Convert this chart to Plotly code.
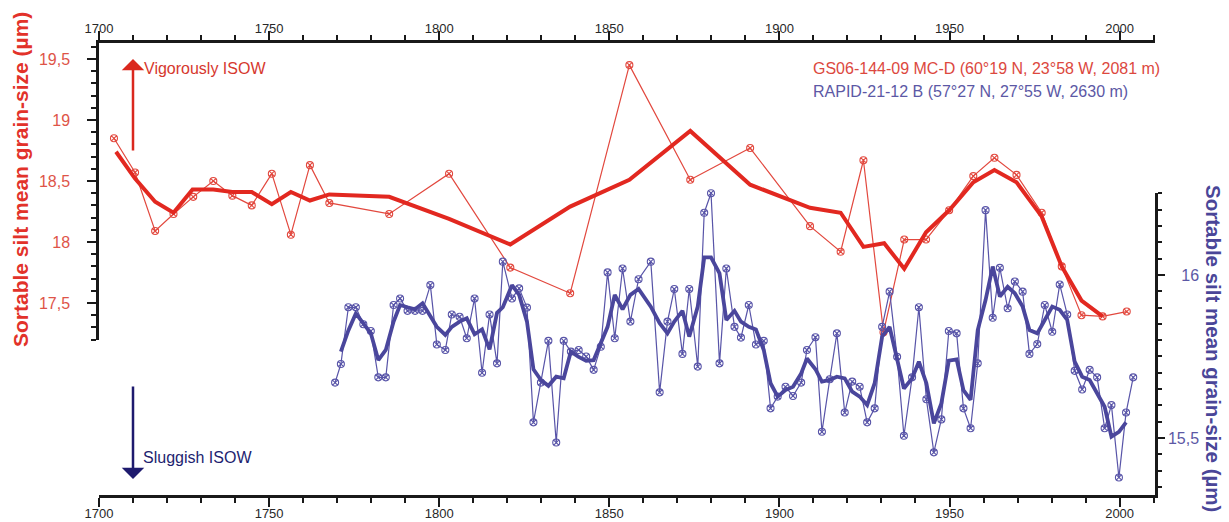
import plotly.graph_objects as go

# ---------------- data ----------------
red_years = [1704.4, 1710.6, 1716.5, 1721.9, 1727.7, 1733.6, 1739.2, 1744.9, 1750.8, 1756.4,
             1762.0, 1767.7, 1785.3, 1802.9, 1820.9, 1838.5, 1855.9, 1873.8, 1891.4, 1909.0,
             1918.0, 1924.7, 1930.6, 1936.7, 1943.1, 1949.9, 1957.0, 1963.2, 1969.7, 1977.1,
             1983.0, 1988.8, 1995.0, 2002.1]
red_values = [18.85, 18.57, 18.09, 18.23, 18.37, 18.50, 18.38, 18.30, 18.56, 18.06,
              18.63, 18.32, 18.23, 18.56, 17.79, 17.58, 19.45, 18.51, 18.77, 18.13,
              17.92, 18.67, 17.26, 18.02, 18.02, 18.26, 18.54, 18.69, 18.55, 18.24,
              17.80, 17.40, 17.39, 17.43]

red_smooth_years = [1705.0, 1710.6, 1716.5, 1721.9, 1727.5, 1733.6, 1739.2, 1744.9, 1750.8, 1756.4,
                    1762.0, 1767.7, 1785.3, 1802.9, 1820.9, 1838.5, 1855.9, 1873.8, 1891.4, 1909.0,
                    1918.0, 1924.7, 1930.8, 1936.7, 1943.1, 1949.9, 1957.0, 1963.2, 1969.7, 1977.1,
                    1983.0, 1988.8, 1995.0]
red_smooth_values = [18.74, 18.52, 18.33, 18.24, 18.43, 18.43, 18.41, 18.41, 18.31, 18.41,
                     18.34, 18.39, 18.37, 18.19, 17.98, 18.29, 18.51, 18.91, 18.47, 18.28,
                     18.24, 17.96, 17.99, 17.78, 18.08, 18.26, 18.49, 18.59, 18.49, 18.21,
                     17.80, 17.52, 17.39]

blue_years = [1769.4, 1771.1, 1773.3, 1775.5, 1777.7, 1779.9, 1782.1, 1784.3, 1786.6, 1788.5,
              1790.7, 1792.9, 1795.1, 1797.4, 1799.3, 1801.8, 1803.7, 1806.0, 1808.1, 1810.4,
              1812.6, 1814.8, 1817.0, 1818.7, 1821.4, 1823.5, 1825.8, 1827.7, 1829.9, 1832.1,
              1834.4, 1836.6, 1838.7, 1841.0, 1843.2, 1845.4, 1847.5, 1849.5, 1851.6, 1853.9,
              1856.2, 1858.6, 1862.2, 1864.8, 1867.1, 1869.1, 1871.5, 1873.5, 1876.0, 1877.9,
              1879.9, 1882.4, 1884.4, 1886.8, 1888.7, 1891.0, 1893.1, 1895.4, 1897.4, 1899.5,
              1901.8, 1904.0, 1906.4, 1908.1, 1910.6, 1912.5, 1914.8, 1916.9, 1919.2, 1921.4,
              1923.6, 1925.8, 1928.0, 1930.2, 1932.4, 1934.6, 1936.6, 1939.0, 1941.0, 1943.2,
              1945.4, 1947.6, 1949.8, 1952.1, 1954.1, 1956.2, 1958.3, 1960.6, 1962.7, 1964.8,
              1967.1, 1969.2, 1971.5, 1973.5, 1975.8, 1978.0, 1980.2, 1982.4, 1984.6, 1986.8,
              1989.0, 1991.2, 1993.4, 1995.6, 1997.6, 1999.8, 2001.9, 2004.0]
blue_values = [15.670, 15.727, 15.901, 15.901, 15.849, 15.828, 15.686, 15.686, 15.908, 15.928,
               15.890, 15.890, 15.890, 15.969, 15.787, 15.770, 15.879, 15.872, 15.806, 15.928,
               15.700, 15.879, 15.729, 16.041, 15.928, 15.959, 15.900, 15.548, 15.670, 15.798,
               15.486, 15.798, 15.765, 15.770, 15.750, 15.709, 15.780, 16.008, 15.806, 16.020,
               15.857, 15.987, 16.041, 15.640, 15.857, 15.957, 15.758, 15.957, 15.719, 16.191,
               16.251, 15.729, 16.020, 15.841, 15.808, 15.908, 15.787, 15.798, 15.591, 15.627,
               15.657, 15.629, 15.670, 15.770, 15.809, 15.519, 15.680, 15.821, 15.578, 15.673,
               15.657, 15.548, 15.591, 15.841, 15.949, 15.749, 15.507, 15.686, 15.901, 15.619,
               15.456, 15.557, 15.828, 15.821, 15.591, 15.530, 15.729, 16.199, 15.869, 16.022,
               15.898, 15.980, 15.949, 15.758, 15.788, 15.908, 15.826, 15.971, 15.879, 15.706,
               15.649, 15.709, 15.686, 15.530, 15.601, 15.379, 15.578, 15.686]

blue_smooth_years = blue_years[1:-1]
blue_smooth_values = [15.765, 15.830, 15.882, 15.850, 15.821, 15.739, 15.770, 15.857, 15.908,
                      15.901, 15.895, 15.913, 15.872, 15.841, 15.816, 15.841, 15.857, 15.867, 15.818,
                      15.833, 15.772, 15.884, 15.901, 15.969, 15.939, 15.857, 15.711, 15.678, 15.660,
                      15.688, 15.683, 15.765, 15.749, 15.737, 15.739, 15.790, 15.841, 15.939, 15.895,
                      15.939, 15.957, 15.903, 15.852, 15.821, 15.857, 15.890, 15.811, 15.903, 16.054,
                      16.054, 16.005, 15.862, 15.890, 15.857, 15.841, 15.833, 15.770, 15.668, 15.627,
                      15.647, 15.657, 15.698, 15.744, 15.711, 15.673, 15.678, 15.688, 15.683, 15.642,
                      15.627, 15.601, 15.668, 15.811, 15.841, 15.739, 15.652, 15.683, 15.734, 15.668,
                      15.545, 15.606, 15.737, 15.741, 15.647, 15.617, 15.831, 15.923, 16.026, 15.934,
                      15.964, 15.944, 15.903, 15.831, 15.821, 15.862, 15.903, 15.893, 15.862, 15.734,
                      15.688, 15.678, 15.637, 15.596, 15.504, 15.519, 15.548]

x_tick_vals = [1700, 1750, 1800, 1850, 1900, 1950, 2000]
x_tick_text = ["1700", "1750", "1800", "1850", "1900", "1950", "2000"]
left_tick_vals = [17.5, 18.0, 18.5, 19.0, 19.5]
left_tick_text = ["17,5", "18", "18,5", "19", "19,5"]
right_tick_vals = [15.5, 16.0]
right_tick_text = ["15,5", "\u2007\u00a016"]

title_text = "Sortable silt mean grain-size (µm)"
red_label = "GS06-144-09 MC-D (60°19 N, 23°58 W, 2081 m)"
blue_label = "RAPID-21-12 B (57°27 N, 27°55 W, 2630 m)"

# ---------------- styles ----------------
FONT = "Liberation Sans, Arial, Helvetica, sans-serif"
RED_THIN = "rgb(226,72,62)"
RED_THICK = "rgb(226,40,32)"
BLUE_THIN = "rgb(88,84,168)"
BLUE_THICK = "rgb(74,70,156)"
NAVY = "rgb(34,30,112)"
AX = "rgb(25,25,25)"

W, H = 1229, 522
ML, MR, MT, MB = 99, 74, 43, 27
PW, PH = W - ML - MR, H - MT - MB


def px_x(p):
    return (p - ML) / PW


def px_y(p):
    return (H - MB - p) / PH


fig = go.Figure()

fig.add_trace(go.Scatter(x=red_years, y=red_values, mode="lines+markers", xaxis="x", yaxis="y",
                         line=dict(color=RED_THIN, width=1.2),
                         marker=dict(symbol="circle-x-open", size=7, color=RED_THIN,
                                     line=dict(width=1.1, color=RED_THIN)),
                         cliponaxis=False, name=red_label))
fig.add_trace(go.Scatter(x=red_smooth_years, y=red_smooth_values, mode="lines", xaxis="x", yaxis="y",
                         line=dict(color=RED_THICK, width=4), cliponaxis=False, name="red smooth"))
fig.add_trace(go.Scatter(x=blue_years, y=blue_values, mode="lines+markers", xaxis="x2", yaxis="y2",
                         line=dict(color=BLUE_THIN, width=1.2),
                         marker=dict(symbol="circle-x-open", size=7, color=BLUE_THIN,
                                     line=dict(width=1.1, color=BLUE_THIN)),
                         cliponaxis=False, name=blue_label))
fig.add_trace(go.Scatter(x=blue_smooth_years, y=blue_smooth_values, mode="lines", xaxis="x2", yaxis="y2",
                         line=dict(color=BLUE_THICK, width=3.8), cliponaxis=False, name="blue smooth"))

XR = [1700, 1700 + PW / 3.402]
common_x = dict(range=XR, domain=[0, 1], showgrid=False, zeroline=False, showline=True,
                automargin=False,
                linecolor=AX, linewidth=2.5, ticks="outside", ticklen=9, tickwidth=2, tickcolor=AX,
                tickmode="array", tickvals=x_tick_vals, ticktext=x_tick_text,
                tickfont=dict(family=FONT, size=13, color="rgb(40,40,40)"),
                minor=dict(tickmode="linear", tick0=1700, dtick=10, ticks="outside", ticklen=5,
                           tickwidth=2, tickcolor=AX, showgrid=False))

y_top_val = 18 + (242 - MT) / 122
y_bot_val = 18 - (340 - 242) / 122
y_dom_bot = px_y(340)

y2_bot = 16 - (H - MB - 275) / 326
y2_top = 16.252
y2_dom_top = (y2_top - y2_bot) * 326 / PH

fig.update_layout(
    width=W, height=H, autosize=False,
    margin=dict(l=ML, r=MR, t=MT, b=MB, pad=0),
    paper_bgcolor="white", plot_bgcolor="rgba(0,0,0,0)",
    showlegend=False,
    font=dict(family=FONT),
    xaxis=dict(anchor="y", side="top", ticklabelstandoff=-7, **common_x),
    xaxis2=dict(anchor="y2", side="bottom", ticklabelstandoff=-4, **common_x),
    yaxis=dict(domain=[y_dom_bot, 1], range=[y_bot_val, y_top_val], anchor="x", side="left",
               automargin=False, ticklabelstandoff=14,
               showgrid=False, zeroline=False, showline=True, linecolor=AX, linewidth=2.5,
               ticks="outside", ticklen=9, tickwidth=2, tickcolor=AX,
               tickmode="array", tickvals=left_tick_vals, ticktext=left_tick_text,
               tickfont=dict(family=FONT, size=16, color="rgb(222,84,72)"),
               minor=dict(tickmode="linear", tick0=17.2, dtick=0.1, ticks="outside", ticklen=5,
                          tickwidth=2, tickcolor=AX, showgrid=False)),
    yaxis2=dict(domain=[0, y2_dom_top], range=[y2_bot, y2_top], anchor="x2", side="right",
                automargin=False,
                showgrid=False, zeroline=False, showline=True, linecolor=AX, linewidth=2.5,
                ticks="outside", ticklen=7, tickwidth=2, tickcolor=AX,
                tickmode="array", tickvals=right_tick_vals, ticktext=right_tick_text,
                tickfont=dict(family=FONT, size=16, color="rgb(92,88,165)"),
                minor=dict(tickmode="linear", tick0=15.35, dtick=0.05, ticks="outside", ticklen=4,
                           tickwidth=2, tickcolor=AX, showgrid=False)),
)

ann = []
# axis titles
ann.append(dict(text="<b>" + title_text + "</b>", xref="paper", yref="paper", x=px_x(20), y=px_y(180),
                xanchor="center", yanchor="middle", textangle=-90, showarrow=False,
                font=dict(family=FONT, size=21, color="rgb(226,50,42)")))
ann.append(dict(text="<b>" + title_text + "</b>", xref="paper", yref="paper", x=px_x(1214), y=px_y(348),
                xanchor="center", yanchor="middle", textangle=90, showarrow=False,
                font=dict(family=FONT, size=20.5, color="rgb(74,70,152)")))
# legend texts
ann.append(dict(text=red_label, xref="paper", yref="paper", x=px_x(811), y=px_y(68),
                xanchor="left", yanchor="middle", showarrow=False,
                font=dict(family=FONT, size=16, color="rgb(220,72,62)")))
ann.append(dict(text=blue_label, xref="paper", yref="paper", x=px_x(811), y=px_y(91),
                xanchor="left", yanchor="middle", showarrow=False,
                font=dict(family=FONT, size=16, color="rgb(92,88,165)")))
# arrows
ann.append(dict(text="", xref="paper", yref="paper", x=px_x(133), y=px_y(59), ax=0, ay=93,
                axref="pixel", ayref="pixel", showarrow=True, arrowhead=1, arrowsize=1.5,
                arrowwidth=2.5, arrowcolor="rgb(218,40,30)", standoff=0))
ann.append(dict(text="Vigorously ISOW", xref="paper", yref="paper", x=px_x(142), y=px_y(69),
                xanchor="left", yanchor="middle", showarrow=False,
                font=dict(family=FONT, size=16, color="rgb(214,56,46)")))
ann.append(dict(text="", xref="paper", yref="paper", x=px_x(133), y=px_y(479), ax=0, ay=-94,
                axref="pixel", ayref="pixel", showarrow=True, arrowhead=1, arrowsize=1.5,
                arrowwidth=2.5, arrowcolor="rgb(30,26,110)", standoff=0))
ann.append(dict(text="Sluggish ISOW", xref="paper", yref="paper", x=px_x(141), y=px_y(457),
                xanchor="left", yanchor="middle", showarrow=False,
                font=dict(family=FONT, size=16, color=NAVY)))

fig.update_layout(annotations=ann)

fig.write_html("out.html", config={"displayModeBar": False},
               post_script="document.body.style.margin='0';document.body.style.overflow='hidden';")
